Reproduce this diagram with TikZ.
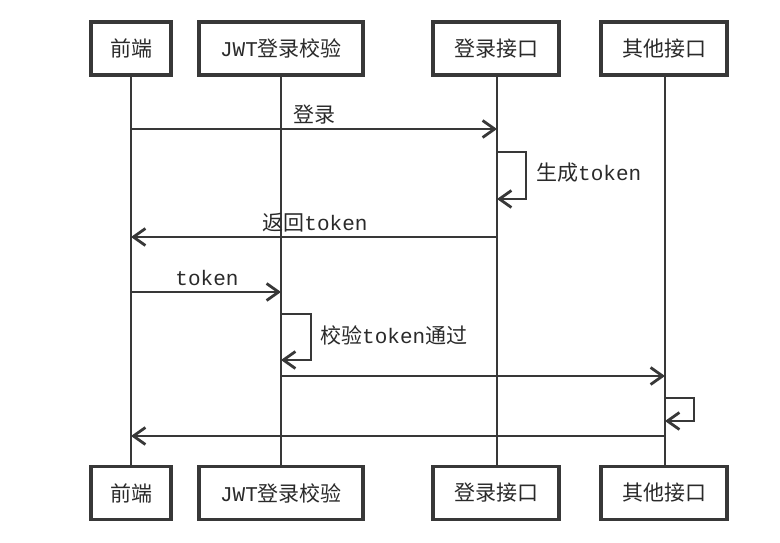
\documentclass[tikz,border=0pt]{standalone}
\usepackage{fontspec}
\newfontfamily\cjk{Noto Sans CJK SC}
\setmonofont{Liberation Mono}
\usetikzlibrary{arrows.meta}
\definecolor{ink}{HTML}{383838}
\definecolor{txt}{HTML}{2A2A2A}
\newcommand{\tk}{{\ttfamily token}}
\begin{document}
\begin{tikzpicture}[x=1pt,y=-1pt,
  pbox/.style={draw=ink, line width=3.4pt, fill=white, inner sep=0pt,
    minimum height=53pt, text=txt, font=\cjk\fontsize{21}{23}\selectfont},
  life/.style={draw=ink, line width=2.8pt},
  msg/.style={draw=ink, line width=2.8pt, -{Straight Barb[length=12pt,width=17pt,line width=2.8pt]}},
  lbl/.style={text=txt, inner sep=0pt, font=\cjk\fontsize{21}{23}\selectfont}]
\useasboundingbox (0,0) rectangle (780,543);
% top participants
\node[pbox, minimum width=80pt]  (fe)  at (131,48.5) {前端};
\node[pbox, minimum width=164pt] (jwt) at (281,48.5) {{\ttfamily JWT}登录校验};
\node[pbox, minimum width=126pt] (li)  at (496,48.5) {登录接口};
\node[pbox, minimum width=126pt] (oi)  at (664,48.5) {其他接口};
% bottom participants
\node[pbox, minimum width=80pt]  (feb)  at (131,493) {前端};
\node[pbox, minimum width=164pt] (jwtb) at (281,493) {{\ttfamily JWT}登录校验};
\node[pbox, minimum width=126pt] (lib)  at (496,493) {登录接口};
\node[pbox, minimum width=126pt] (oib)  at (664,493) {其他接口};
% lifelines
\draw[life] (fe.south)  -- (feb.north);
\draw[life] (jwt.south) -- (jwtb.north);
\draw[life] ([xshift=1pt]li.south) -- ([xshift=1pt]lib.north);
\draw[life] ([xshift=1pt]oi.south) -- ([xshift=1pt]oib.north);
% coordinates on lifelines
\coordinate (fe1) at (131,129);  \coordinate (li1) at (497,129);
\coordinate (li2a) at (497,152); \coordinate (li2b) at (497,199);
\coordinate (li3) at (497,237);  \coordinate (fe3) at (131,237);
\coordinate (fe4) at (131,292);  \coordinate (jw4) at (281,292);
\coordinate (jw5a) at (281,314); \coordinate (jw5b) at (281,360);
\coordinate (jw6) at (281,376);  \coordinate (oi6) at (665,376);
\coordinate (oi7a) at (665,398); \coordinate (oi7b) at (665,421);
\coordinate (oi8) at (665,436);  \coordinate (fe8) at (131,436);
% messages
\draw[msg] (fe1) -- (li1);
\node[lbl] (l1) at (314,115) {登录};
\draw[msg] (li2a) -- ++(29,0) |- (li2b);
\node[lbl, anchor=west] (l2) at (536,173) {生成\tk};
\draw[msg] (li3) -- (fe3);
\node[lbl] (l3) at (315,223) {返回\tk};
\draw[msg] (fe4) -- (jw4);
\node[lbl] (l4) at (207,278) {\tk};
\draw[msg] (jw5a) -- ++(30,0) |- (jw5b);
\node[lbl, anchor=west] (l5) at (320,335) {校验\tk 通过};
\draw[msg] (jw6) -- (oi6);
\draw[msg] (oi7a) -- ++(29,0) |- (oi7b);
\draw[msg] (oi8) -- (fe8);
\end{tikzpicture}
\end{document}
